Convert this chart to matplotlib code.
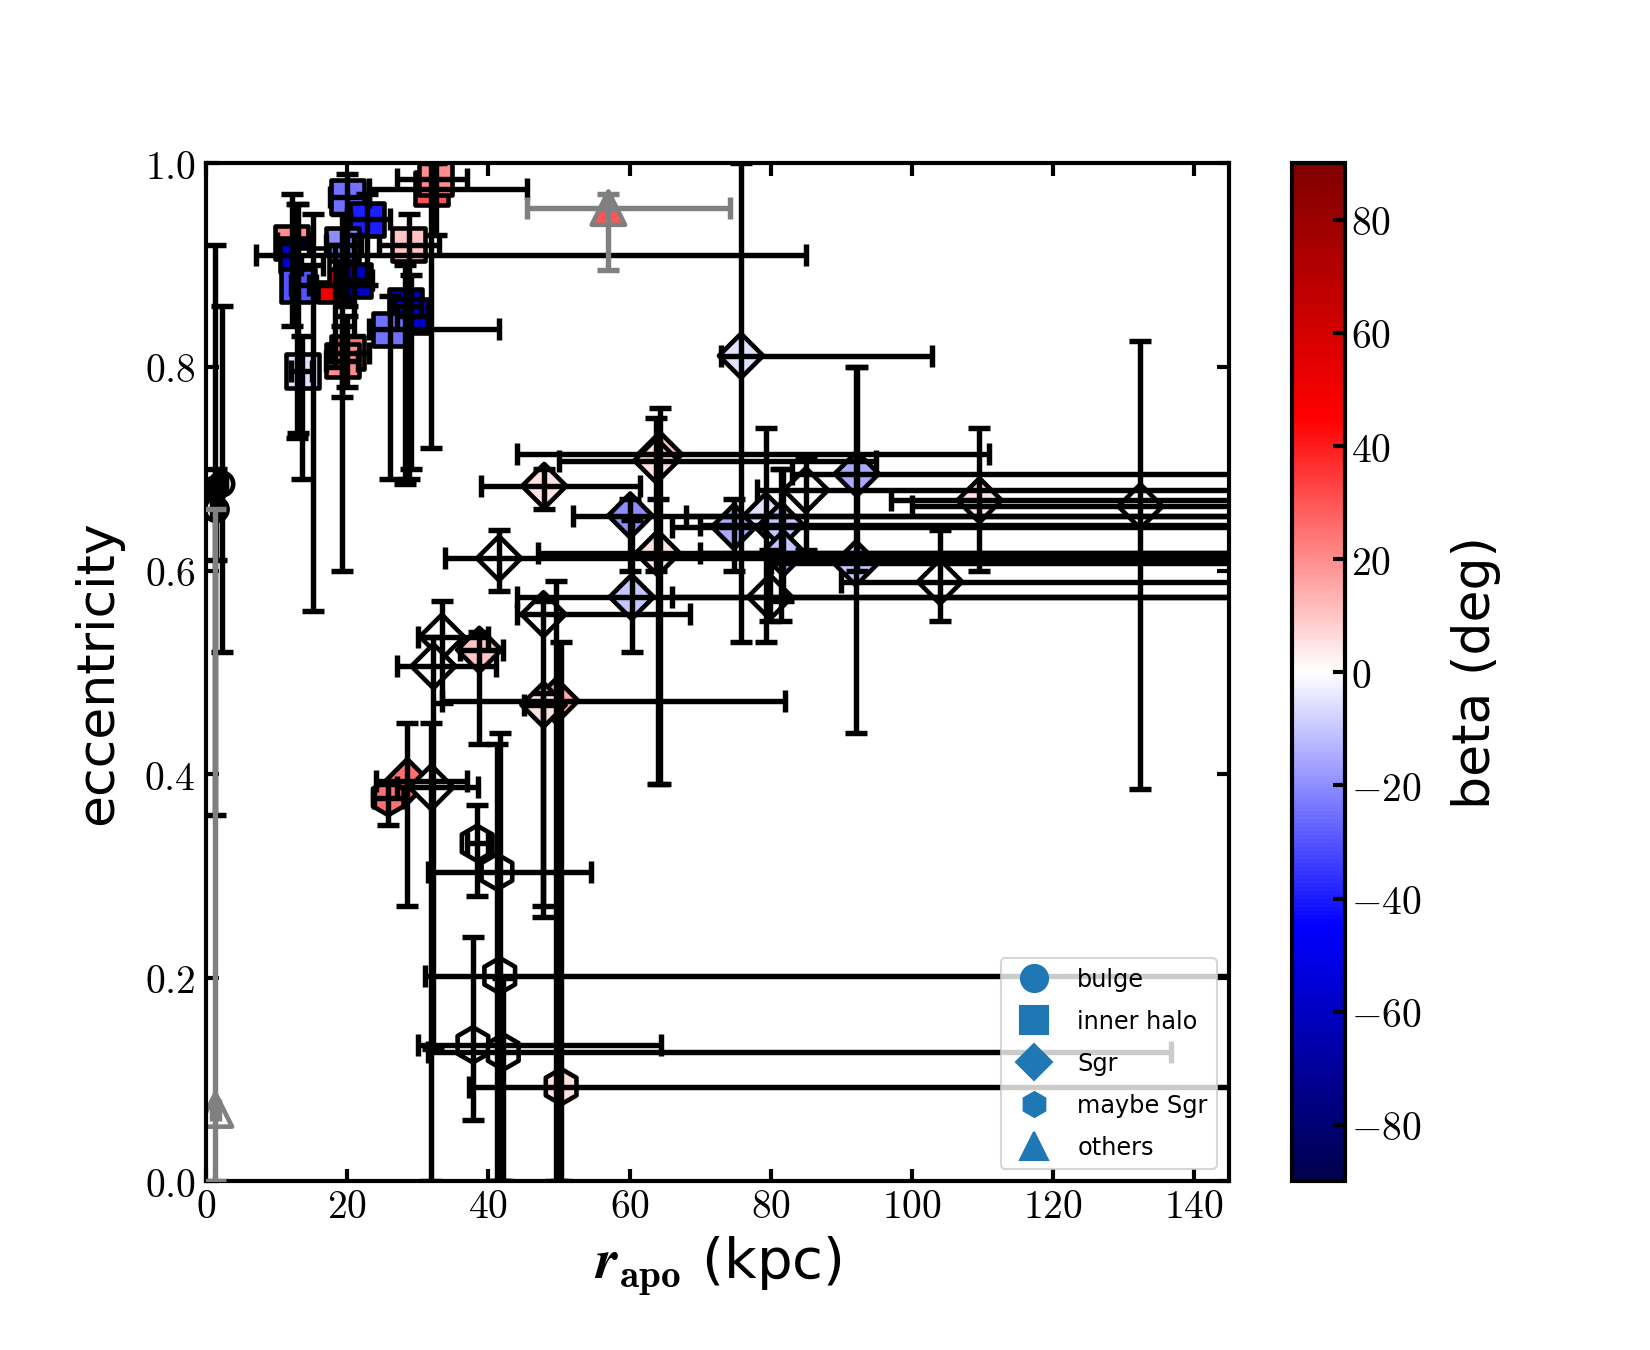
import numpy as np
import matplotlib
matplotlib.use('Agg')
import matplotlib.pyplot as plt
from matplotlib.lines import Line2D
from matplotlib.ticker import FuncFormatter, MultipleLocator

plt.rcParams['mathtext.fontset'] = 'cm'
plt.rcParams['font.family'] = ['DejaVu Sans']

# bulge (circles)
bulge_x = [1.2, 2.2, 1.4]
bulge_y = [0.680, 0.685, 0.660]
bulge_xlo = [0.6, 1.6, 0.8]
bulge_xhi = [1.8, 2.8, 2.0]
bulge_ylo = [0.36, 0.52, 0.61]
bulge_yhi = [0.92, 0.86, 0.70]
bulge_beta = [-3, 5, 0]

# inner halo (squares)
halo_x = [20.0, 22.8, 31.9, 32.5, 28.7, 12.1, 12.8, 19.3, 18.2, 21.0,
          28.2, 29.0, 26.0, 20.0, 19.3, 13.6, 15.1, 13.0]
halo_y = [0.967, 0.945, 0.975, 0.985, 0.920, 0.922, 0.910, 0.920, 0.880, 0.885,
          0.860, 0.850, 0.837, 0.814, 0.806, 0.796, 0.900, 0.880]
halo_xlo = [17.5, 20.0, 23.0, 27.0, 24.5, 10.0, 7.0, 17.0, 15.5, 18.5,
            26.0, 27.0, 23.0, 17.5, 17.0, 12.0, 13.5, 12.0]
halo_xhi = [23.0, 26.0, 45.5, 37.0, 33.0, 14.5, 85.0, 22.0, 21.0, 23.5,
            30.5, 31.5, 41.5, 23.0, 21.5, 15.0, 16.5, 14.5]
halo_ylo = [0.86, 0.88, 0.72, 0.93, 0.69, 0.84, 0.73, 0.60, 0.80, 0.83,
            0.685, 0.70, 0.69, 0.78, 0.77, 0.69, 0.56, 0.735]
halo_yhi = [0.99, 0.97, 1.00, 1.00, 0.95, 0.97, 0.96, 0.95, 0.92, 0.93,
            0.90, 0.89, 0.87, 0.85, 0.84, 0.83, 0.95, 0.96]
halo_beta = [-25, -40, 30, 20, 10, 20, -55, -20, 50, -60,
             -65, -55, -25, 25, 20, -5, 0, -30]

# Sgr (diamonds)
sgr_x = [75.8, 64.3, 63.8, 47.9, 60.1, 74.8, 79.3, 81.5, 85.0, 92.2,
         109.6, 132.4, 41.5, 64.0, 81.8, 92.1, 104.0, 79.9, 60.3, 47.8,
         33.4, 32.2, 38.7, 49.6, 47.8, 28.5, 31.9]
sgr_y = [0.811, 0.714, 0.708, 0.683, 0.654, 0.643, 0.654, 0.645, 0.679, 0.695,
         0.669, 0.663, 0.612, 0.617, 0.617, 0.607, 0.589, 0.574, 0.574, 0.557,
         0.535, 0.506, 0.522, 0.472, 0.468, 0.393, 0.387]
sgr_xlo = [73.0, 44.0, 50.0, 39.0, 52.0, 66.0, 68.0, 70.0, 78.0, 83.0,
           97.0, 100.0, 33.8, 47.0, 70.0, 80.0, 90.0, 66.0, 44.0, 44.0,
           30.0, 27.0, 36.0, 33.4, 45.0, 24.0, 27.0]
sgr_xhi = [102.8, 111.0, 95.0, 61.5, 150.0, 150.0, 150.0, 150.0, 150.0, 150.0,
           150.0, 160.0, 150.0, 150.0, 150.0, 150.0, 150.0, 150.0, 150.0, 68.5,
           40.0, 41.0, 42.0, 82.0, 50.0, 37.0, 38.5]
sgr_ylo = [0.53, 0.39, 0.60, 0.66, 0.60, 0.60, 0.53, 0.55, 0.62, 0.60,
           0.60, 0.385, 0.58, 0.39, 0.57, 0.44, 0.55, 0.55, 0.52, 0.26,
           0.47, 0.13, 0.43, 0.00, 0.27, 0.27, 0.00]
sgr_yhi = [1.00, 0.76, 0.75, 0.70, 0.67, 0.67, 0.74, 0.70, 0.71, 0.80,
           0.74, 0.825, 0.64, 0.67, 0.70, 0.80, 0.64, 0.62, 0.65, 0.57,
           0.57, 0.535, 0.54, 0.59, 0.48, 0.45, 0.45]
sgr_beta = [-5, 10, 5, 5, -20, -15, -5, -10, 0, -15,
            5, 0, 0, 5, -10, -10, 0, 0, -10, 0,
            0, 0, 10, 15, 5, 25, 0]

# maybe Sgr (hexagons)
msgr_x = [25.8, 38.4, 41.2, 41.6, 37.8, 42.1, 50.3]
msgr_y = [0.377, 0.332, 0.304, 0.202, 0.134, 0.127, 0.093]
msgr_xlo = [23.8, 37.0, 31.5, 31.0, 30.0, 31.5, 37.3]
msgr_xhi = [28.0, 40.0, 54.5, 150.0, 64.5, 136.7, 150.0]
msgr_ylo = [0.35, 0.28, 0.00, 0.00, 0.06, 0.00, 0.00]
msgr_yhi = [0.39, 0.37, 0.43, 0.44, 0.24, 0.20, 0.53]
msgr_beta = [25, 0, 0, 0, 0, 0, 5]

# others (triangles)
oth_x = [57.0, 1.3]
oth_y = [0.956, 0.070]
oth_xlo = [45.4, 0.8]
oth_xhi = [74.3, 1.8]
oth_ylo = [0.895, 0.0]
oth_yhi = [0.970, 0.66]
oth_beta = [30, 0]

cmap = plt.get_cmap('seismic')
norm = matplotlib.colors.Normalize(vmin=-90, vmax=90)


def plot_group(ax, x, y, xlo, xhi, ylo, yhi, beta, marker, ms, col):
    x = np.array(x); y = np.array(y)
    xerr = [x - np.array(xlo), np.array(xhi) - x]
    yerr = [y - np.array(ylo), np.array(yhi) - y]
    ax.scatter(x, y, c=beta, cmap=cmap, norm=norm, marker=marker, s=ms ** 2,
               edgecolors=col, linewidths=2.2, zorder=2)
    ax.errorbar(x, y, xerr=xerr, yerr=yerr, fmt='none', ecolor=col,
                elinewidth=2.6, capsize=5.5, capthick=2.6, zorder=3)


fig = plt.figure(figsize=(11, 9), dpi=150)
ax = fig.add_axes([0.125, 0.125, 0.620, 0.754])

plot_group(ax, bulge_x, bulge_y, bulge_xlo, bulge_xhi, bulge_ylo, bulge_yhi, bulge_beta, 'o', 11, 'k')
plot_group(ax, halo_x, halo_y, halo_xlo, halo_xhi, halo_ylo, halo_yhi, halo_beta, 's', 16, 'k')
plot_group(ax, sgr_x, sgr_y, sgr_xlo, sgr_xhi, sgr_ylo, sgr_yhi, sgr_beta, 'D', 15, 'k')
plot_group(ax, msgr_x, msgr_y, msgr_xlo, msgr_xhi, msgr_ylo, msgr_yhi, msgr_beta, 'h', 17, 'k')
plot_group(ax, oth_x, oth_y, oth_xlo, oth_xhi, oth_ylo, oth_yhi, oth_beta, '^', 16, 'gray')

ax.set_xlim(0, 145)
ax.set_ylim(0, 1)
ax.xaxis.set_major_locator(MultipleLocator(20))
ax.yaxis.set_major_locator(MultipleLocator(0.2))
ax.xaxis.set_major_formatter(FuncFormatter(lambda v, p: r'$\mathbf{%d}$' % round(v)))
ax.yaxis.set_major_formatter(FuncFormatter(lambda v, p: r'$\mathbf{%.1f}$' % v))
ax.tick_params(direction='in', length=6, width=2, labelsize=19,
               top=True, right=True)
ax.tick_params(axis='x', pad=3)
ax.tick_params(axis='y', pad=5)
for s in ax.spines.values():
    s.set_linewidth(2)

ax.set_xlabel(r'$\boldsymbol{r}_{\mathbf{apo}}$ (kpc)', fontsize=27, labelpad=3)
ax.set_ylabel('eccentricity', fontsize=25, labelpad=10)

handles = [Line2D([], [], marker=m, color='C0', linestyle='none', markersize=ms)
           for m, ms in [('o', 13), ('s', 13), ('D', 12), ('h', 12), ('^', 13)]]
labels = ['bulge', 'inner halo', 'Sgr', 'maybe Sgr', 'others']
leg = ax.legend(handles, labels, loc='lower right', fontsize=11.5,
                labelspacing=0.75, framealpha=0.8)
leg.set_zorder(10)

cax = fig.add_axes([0.783, 0.125, 0.032, 0.754])
sm = matplotlib.cm.ScalarMappable(norm=norm, cmap=cmap)
cb = fig.colorbar(sm, cax=cax, ticks=np.arange(-80, 81, 20))
cb.outline.set_linewidth(2)
cax.yaxis.set_major_formatter(FuncFormatter(lambda v, p: r'$\mathbf{%d}$' % round(v)))
cax.tick_params(direction='in', length=6, width=2, labelsize=19, pad=3)
cb.set_label('beta (deg)', fontsize=25, labelpad=14)

fig.savefig('out.png', dpi=150)
